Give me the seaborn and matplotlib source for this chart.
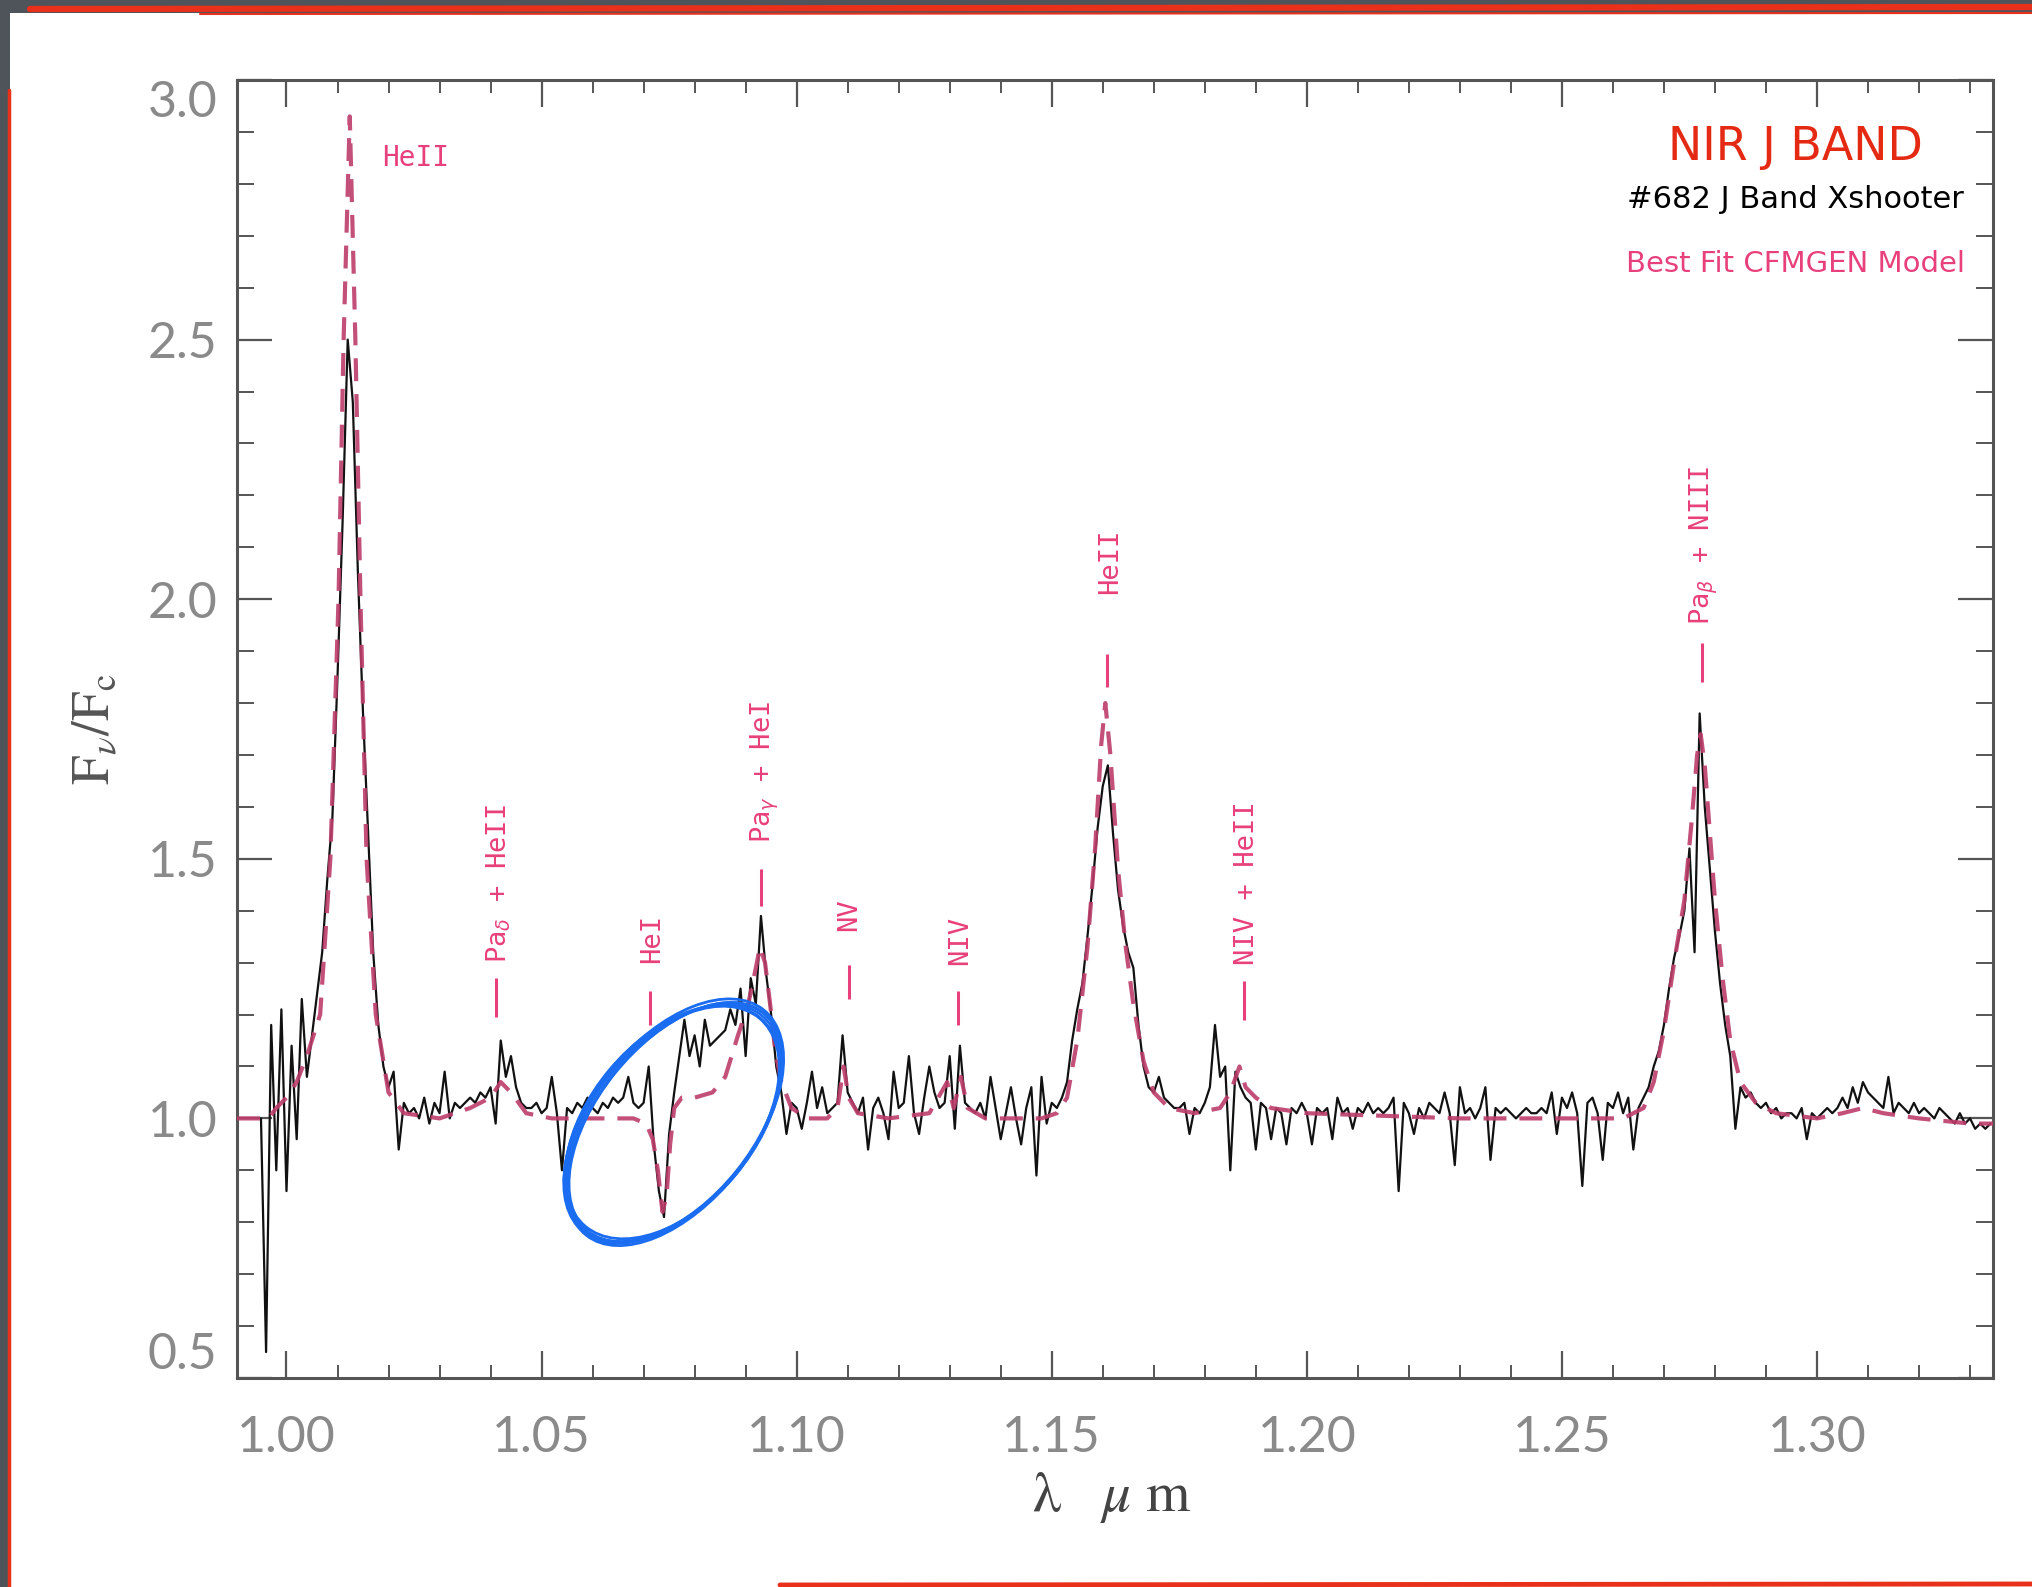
import numpy as np
import pandas as pd
import matplotlib
matplotlib.use("Agg")
import matplotlib.pyplot as plt
import seaborn as sns
from matplotlib.patches import Ellipse, Rectangle
from matplotlib.lines import Line2D
from matplotlib.ticker import MultipleLocator
import matplotlib.transforms as mtransforms

# ---------------- observed spectrum (X-shooter), 0.001 um sampling from 0.995 um ----------------
OBS_START = 0.995
OBS_STEP = 0.001
r0995 = [1.00, 0.55, 1.18, 0.90, 1.21, 0.86, 1.14, 0.96, 1.23, 1.08]
r1005 = [1.16, 1.24, 1.32, 1.46, 1.58, 1.85, 2.15, 2.50, 2.38, 2.05]
r1015 = [1.78, 1.55, 1.32, 1.18, 1.10, 1.06, 1.09, 0.94, 1.03, 1.01]
r1025 = [1.02, 1.00, 1.04, 0.99, 1.03, 1.01, 1.09, 1.00, 1.03, 1.02]
r1035 = [1.03, 1.04, 1.03, 1.05, 1.04, 1.06, 0.99, 1.15, 1.08, 1.12]
r1045 = [1.06, 1.03, 1.02, 1.02, 1.03, 1.01, 1.02, 1.08, 1.01, 0.90]
r1055 = [1.02, 1.01, 1.03, 1.02, 1.04, 1.02, 1.01, 1.03, 1.02, 1.04]
r1065 = [1.03, 1.04, 1.08, 1.03, 1.02, 1.03, 1.10, 0.95, 0.86, 0.81]
r1075 = [0.97, 1.05, 1.12, 1.19, 1.12, 1.16, 1.10, 1.19, 1.14, 1.15]
r1085 = [1.16, 1.17, 1.21, 1.18, 1.25, 1.12, 1.27, 1.22, 1.39, 1.28]
r1095 = [1.20, 1.10, 1.05, 0.97, 1.03, 1.02, 0.98, 1.03, 1.09, 1.02]
r1105 = [1.06, 1.01, 1.02, 1.03, 1.16, 1.05, 1.03, 1.01, 1.04, 0.94]
r1115 = [1.02, 1.04, 1.01, 0.96, 1.09, 1.02, 1.03, 1.12, 1.01, 0.97]
r1125 = [1.04, 1.10, 1.05, 1.02, 1.03, 1.12, 0.98, 1.14, 1.03, 1.02]
r1135 = [1.01, 1.03, 1.00, 1.08, 1.02, 0.96, 1.01, 1.06, 1.00, 0.95]
r1145 = [1.02, 1.06, 0.89, 1.08, 0.99, 1.03, 1.02, 1.04, 1.07, 1.15]
r1155 = [1.21, 1.26, 1.35, 1.45, 1.56, 1.64, 1.68, 1.55, 1.44, 1.37]
r1165 = [1.32, 1.29, 1.18, 1.10, 1.06, 1.05, 1.08, 1.04, 1.03, 1.02]
r1175 = [1.02, 1.03, 0.97, 1.02, 1.01, 1.03, 1.06, 1.18, 1.08, 1.10]
r1185 = [0.90, 1.09, 1.06, 1.04, 1.03, 0.94, 1.03, 1.02, 0.96, 1.02]
r1195 = [1.01, 0.95, 1.02, 1.01, 1.03, 1.01, 0.95, 1.02, 1.01, 1.02]
r1205 = [0.96, 1.04, 1.01, 1.02, 0.98, 1.02, 1.01, 1.03, 1.01, 1.02]
r1215 = [1.01, 1.02, 1.04, 0.86, 1.03, 1.01, 0.97, 1.02, 1.00, 1.03]
r1225 = [1.02, 1.01, 1.05, 1.01, 0.91, 1.06, 1.01, 1.02, 1.00, 1.02]
r1235 = [1.06, 0.92, 1.02, 1.01, 1.02, 1.01, 1.00, 1.01, 1.02, 1.01]
r1245 = [1.01, 1.02, 1.01, 1.05, 0.97, 1.04, 1.02, 1.05, 1.01, 0.87]
r1255 = [1.03, 1.04, 1.01, 0.92, 1.03, 1.02, 1.05, 1.01, 1.04, 0.94]
r1265 = [1.02, 1.04, 1.06, 1.10, 1.13, 1.18, 1.25, 1.31, 1.35, 1.40]
r1275 = [1.52, 1.32, 1.78, 1.60, 1.48, 1.36, 1.26, 1.18, 1.12, 0.98]
r1285 = [1.06, 1.04, 1.05, 1.03, 1.02, 1.03, 1.01, 1.02, 1.00, 1.01]
r1295 = [1.01, 1.00, 1.02, 0.96, 1.01, 1.00, 1.01, 1.02, 1.01, 1.02]
r1305 = [1.04, 1.02, 1.06, 1.03, 1.07, 1.05, 1.04, 1.03, 1.02, 1.08]
r1315 = [1.01, 1.03, 1.02, 1.01, 1.03, 1.01, 1.02, 1.01, 1.00, 1.02]
r1325 = [1.01, 1.00, 0.99, 1.01, 0.99, 1.00, 0.98, 0.99, 0.98, 0.99]

OBS_ROWS = [r0995, r1005, r1015, r1025, r1035, r1045, r1055, r1065, r1075, r1085,
            r1095, r1105, r1115, r1125, r1135, r1145, r1155, r1165, r1175, r1185,
            r1195, r1205, r1215, r1225, r1235, r1245, r1255, r1265, r1275, r1285,
            r1295, r1305, r1315, r1325]

# ---------------- best-fit CMFGEN model ----------------
MODEL_WAVE = [0.9903, 0.9965, 0.998, 1.000, 1.002, 1.004, 1.0066, 1.0086, 1.0102, 1.0112,
              1.0124, 1.0135, 1.0145, 1.0157, 1.0175, 1.020, 1.023, 1.030, 1.036, 1.040,
              1.042, 1.044, 1.047, 1.052, 1.060, 1.068, 1.0705, 1.0718, 1.0728, 1.0737,
              1.0745, 1.0752, 1.0760, 1.0775, 1.080, 1.0835, 1.086, 1.0885, 1.0905, 1.0918,
              1.0928, 1.0938, 1.0948, 1.0958, 1.097, 1.099, 1.102, 1.106, 1.108, 1.1092,
              1.1102, 1.112, 1.118, 1.126, 1.1295, 1.1308, 1.1322, 1.1335, 1.137, 1.148,
              1.151, 1.153, 1.155, 1.157, 1.1585, 1.1597, 1.1605, 1.1615, 1.163, 1.1645,
              1.166, 1.168, 1.170, 1.173, 1.178, 1.183, 1.185, 1.1868, 1.188, 1.190,
              1.193, 1.200, 1.230, 1.262, 1.264, 1.266, 1.268, 1.270, 1.272, 1.274,
              1.2755, 1.2765, 1.2772, 1.278, 1.279, 1.280, 1.2815, 1.283, 1.285, 1.288,
              1.292, 1.300, 1.305, 1.309, 1.313, 1.320, 1.330, 1.3345]
MODEL_FLUX = [1.00, 1.00, 1.02, 1.04, 1.07, 1.12, 1.20, 1.50, 2.00, 2.50,
              2.93, 2.50, 2.00, 1.50, 1.20, 1.05, 1.01, 1.00, 1.02, 1.04,
              1.07, 1.05, 1.01, 1.00, 1.00, 1.00, 0.99, 0.96, 0.90, 0.82,
              0.85, 0.95, 1.02, 1.04, 1.04, 1.05, 1.08, 1.16, 1.22, 1.28,
              1.33, 1.30, 1.22, 1.13, 1.07, 1.02, 1.00, 1.00, 1.02, 1.10,
              1.04, 1.01, 1.00, 1.01, 1.07, 1.02, 1.08, 1.02, 1.00, 1.00,
              1.01, 1.04, 1.15, 1.33, 1.52, 1.72, 1.80, 1.70, 1.48, 1.33,
              1.22, 1.11, 1.05, 1.02, 1.01, 1.02, 1.05, 1.10, 1.06, 1.04,
              1.02, 1.01, 1.00, 1.00, 1.01, 1.02, 1.07, 1.17, 1.30, 1.42,
              1.58, 1.70, 1.74, 1.68, 1.55, 1.42, 1.27, 1.15, 1.07, 1.03,
              1.01, 1.00, 1.01, 1.02, 1.01, 1.00, 0.99, 0.99]

# ---------------- line identifications ----------------
LINE_NAMES = [r"Pa$_\delta$ + HeII", "HeI", r"Pa$_\gamma$ + HeI", "NV", "NIV", "HeII",
              "NIV + HeII", r"Pa$_\beta$ + NIII"]
LINE_WAVE = [1.0411, 1.0713, 1.0931, 1.1102, 1.1317, 1.1609, 1.1876, 1.2774]
LINE_TICK_LO = [1.195, 1.18, 1.41, 1.23, 1.18, 1.83, 1.19, 1.84]
LINE_TICK_HI = [1.27, 1.245, 1.48, 1.295, 1.245, 1.895, 1.265, 1.915]
LINE_TEXT_WAVE = [1.0416, 1.0716, 1.0937, 1.1102, 1.1320, 1.1614, 1.1883, 1.2779]
LINE_TEXT_Y = [1.30, 1.30, 1.53, 1.36, 1.295, 2.01, 1.295, 1.95]

XTICKS = [1.00, 1.05, 1.10, 1.15, 1.20, 1.25, 1.30]
XTICK_LABELS = ["1.00", "1.05", "1.10", "1.15", "1.20", "1.25", "1.30"]
YTICKS = [0.5, 1.0, 1.5, 2.0, 2.5, 3.0]
YTICK_LABELS = ["0.5", "1.0", "1.5", "2.0", "2.5", "3.0"]

HIGHLIGHT_CENTER = (1.0759, 0.991)   # circled HeI P-Cygni feature

PINK = "#e8407a"
MODEL_COL = "#bd3d6b"
AXCOL = "#555555"

# ---------------- build figure ----------------
sns.set_theme(style="white")
plt.rcParams["font.family"] = ["DejaVu Sans"]
plt.rcParams["mathtext.fontset"] = "dejavusans"

W, H = 2032, 1587
fig = plt.figure(figsize=(W / 100, H / 100), dpi=100)
fig.patch.set_facecolor("#4f545b")
fig.add_artist(Rectangle((10 / W, 0), 1, (H - 13) / H, transform=fig.transFigure,
                         facecolor="white", edgecolor="none", zorder=-5))
ax = fig.add_axes([237 / W, 209 / H, 1756 / W, 1298 / H])
ax.set_facecolor("white")

obs_flux = np.concatenate([np.array(r) for r in OBS_ROWS])
obs_wave = np.round(OBS_START + OBS_STEP * np.arange(len(obs_flux)), 4)
obs_df = pd.DataFrame({"wave": obs_wave, "flux": obs_flux})
mod_df = pd.DataFrame({"wave": MODEL_WAVE, "flux": MODEL_FLUX})

sns.lineplot(data=obs_df, x="wave", y="flux", ax=ax, color="#111111", linewidth=1.6,
             sort=False, estimator=None, errorbar=None, zorder=3)
sns.lineplot(data=mod_df, x="wave", y="flux", ax=ax, color=MODEL_COL, linewidth=3.0,
             sort=False, estimator=None, errorbar=None, zorder=4, alpha=0.9)
ax.lines[-1].set_dashes([5.5, 3.1])

ax.set_xlim(0.9903, 1.3345)
ax.set_ylim(0.5, 3.0)
ax.set_xticks(XTICKS)
ax.set_xticklabels(XTICK_LABELS)
ax.set_yticks(YTICKS)
ax.set_yticklabels(YTICK_LABELS)
ax.xaxis.set_minor_locator(MultipleLocator(0.01))
ax.yaxis.set_minor_locator(MultipleLocator(0.1))

for s in ax.spines.values():
    s.set_visible(True)
    s.set_color(AXCOL)
    s.set_linewidth(2.2)

ax.tick_params(axis="x", which="major", direction="in", length=19.5, width=1.6,
               color=AXCOL, top=True, bottom=True, pad=27)
ax.tick_params(axis="x", which="minor", direction="in", length=9.5, width=1.4,
               color=AXCOL, top=True, bottom=True)
ax.tick_params(axis="y", which="major", direction="in", length=25, width=1.6,
               color=AXCOL, left=True, right=True, pad=14)
ax.tick_params(axis="y", which="minor", direction="in", length=12.3, width=1.4,
               color=AXCOL, left=True, right=True)

for lab in ax.get_xticklabels() + ax.get_yticklabels():
    lab.set_fontfamily("Lato")
    lab.set_fontweight("normal")
    lab.set_fontsize(36)
    lab.set_color("#8a8a8a")
ylabs = ax.get_yticklabels()
ylabs[-1].set_va("top")
ylabs[0].set_va("bottom")

ax.set_ylabel(r"$\mathrm{F}_{\nu}/\mathrm{F}_{\mathrm{c}}$", fontsize=38, color="#555555",
              va="center", math_fontfamily="stix")
ax.yaxis.set_label_coords(-0.081, 0.50)
ax.set_xlabel(r"$\mathrm{\lambda}\quad\mu\ \mathrm{m}$", fontsize=41, color="#444444",
              va="center", math_fontfamily="stix")
ax.xaxis.set_label_coords(0.498, -0.092)

# line identifications
for name, lw_, lo, hi, tw, ty in zip(LINE_NAMES, LINE_WAVE, LINE_TICK_LO, LINE_TICK_HI,
                                    LINE_TEXT_WAVE, LINE_TEXT_Y):
    ax.plot([lw_, lw_], [lo, hi], color=PINK, lw=2.2, solid_capstyle="butt", zorder=5)
    ax.text(tw, ty, name, rotation=90, ha="center", va="bottom", color=PINK,
            fontsize=19.5, family="DejaVu Sans Mono", zorder=5)

ax.text(1.0188, 2.85, "HeII", color=PINK, fontsize=20, ha="left", va="center",
        family="DejaVu Sans Mono")
ax.text(1.2957, 2.87, "NIR J BAND", color="#e42a12", fontsize=33, ha="center", va="center")
ax.text(1.2957, 2.77, "#682 J Band Xshooter", color="black", fontsize=22, ha="center", va="center")
ax.text(1.2957, 2.645, "Best Fit CFMGEN Model", color=PINK, fontsize=21, ha="center", va="center")

# hand-drawn highlight ellipse (pixel sized, centred on a data point)
cx, cy = ax.transData.transform(HIGHLIGHT_CENTER)
ELL_STROKES = [(278, 160, 50.8, 0, 0), (284, 158, 51.5, 1, -1), (272, 164, 50.0, -1, 1),
               (280, 156, 51.2, 2, 1), (275, 162, 50.4, -2, -1), (286, 162, 50.9, 0, 2)]
for w_, h_, ang, dx, dy in ELL_STROKES:
    e = Ellipse((cx + dx, cy + dy), w_, h_, angle=ang, fill=False, edgecolor="#1a6cf0",
                linewidth=2.0, transform=mtransforms.IdentityTransform(), zorder=6)
    ax.add_patch(e)

# red brushed frame edges
fig.add_artist(Line2D([30 / W, 1], [1 - 9 / H, 1 - 7 / H], transform=fig.transFigure,
                      color="#e8301a", lw=4.5))
fig.add_artist(Line2D([200 / W, 1], [1 - 14 / H, 1 - 13 / H], transform=fig.transFigure,
                      color="#e8301a", lw=1.5))
fig.add_artist(Line2D([8.5 / W, 8.5 / W], [0, 1 - 90 / H], transform=fig.transFigure,
                      color="#e8301a", lw=2.5))
fig.add_artist(Line2D([780 / W, 1], [2 / H, 3 / H], transform=fig.transFigure,
                      color="#e8301a", lw=3.5))

fig.savefig("out.png", dpi=100, facecolor=fig.get_facecolor())
